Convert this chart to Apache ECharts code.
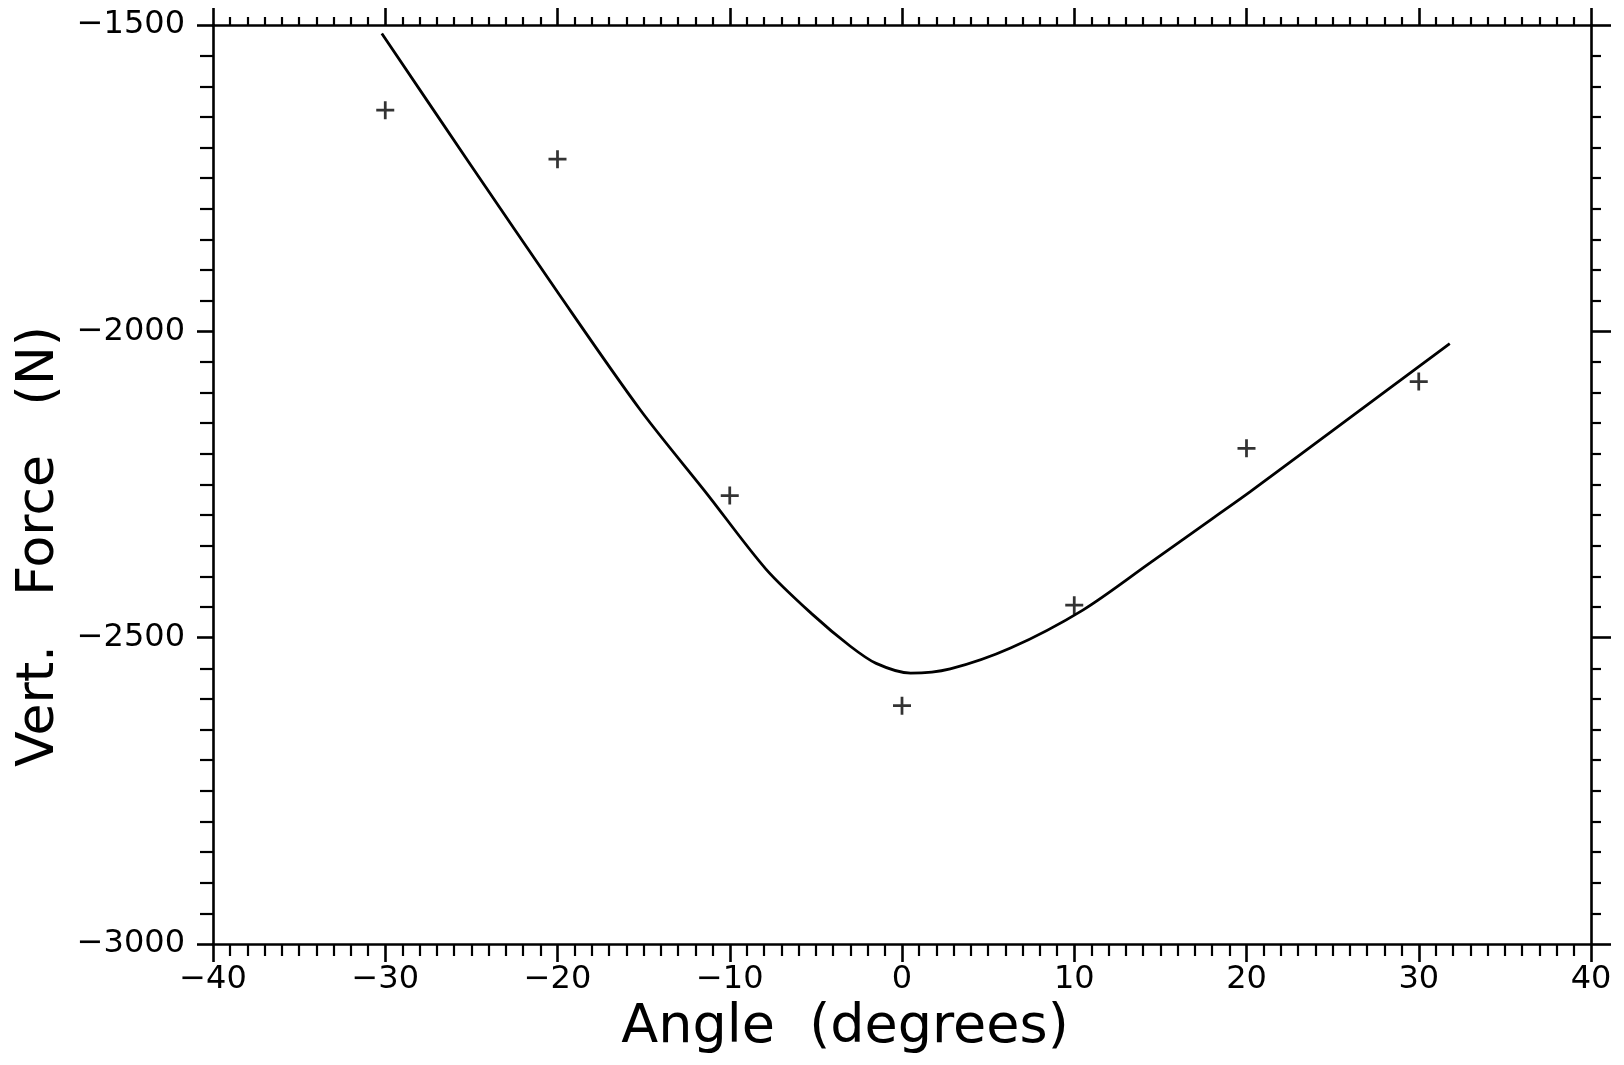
<!DOCTYPE html>
<html>
<head>
<meta charset="utf-8">
<title>Vert. Force vs Angle</title>
<script src="https://cdn.jsdelivr.net/npm/echarts@6/dist/echarts.min.js"></script>
<style>
  html, body { margin: 0; padding: 0; background: #fff; }
  #chart { width: 1624px; height: 1065px; }
</style>
</head>
<body>
<div id="chart"></div>
<script>
// Measured points (+ markers)
const measuredAngle = [-30, -20, -10, 0, 10, 20, 30];
const measuredForce = [-1639, -1719, -2268, -2611, -2447, -2191, -2082];

// Predicted curve
const curveAngle = [-30.2, -25.0, -19.9, -15.2, -11.3, -7.9, -5.2, -3.0, -1.5, 0.5, 2.8, 6.3, 10.5, 14.4, 18.0, 20.2, 24.9, 31.8];
const curveForce = [-1514, -1730, -1940, -2128, -2266, -2388, -2462, -2514, -2542, -2558, -2551, -2517, -2455, -2378, -2306, -2262, -2164, -2020];

// Axis ranges [min, max, major step]
const xRange = [-40, 40, 10];
const yRange = [-3000, -1500, 500];

const FONT = 'DejaVu Sans';
const minusSign = v => String(v).replace('-', '\u2212');

const chart = echarts.init(document.getElementById('chart'), null, { renderer: 'canvas' });

const axisLine = { show: true, onZero: false, lineStyle: { color: '#000', width: 2.6 } };

function xAxisDef(position, showLabels, majorLen, minorLen) {
  return {
    type: 'value', position: position,
    min: xRange[0], max: xRange[1], interval: xRange[2],
    axisLine: axisLine,
    axisTick: { show: true, inside: false, length: majorLen, lineStyle: { color: '#000', width: 2.6 } },
    minorTick: { show: true, splitNumber: 10, length: minorLen, lineStyle: { color: '#000', width: 2.2 } },
    splitLine: { show: false },
    axisLabel: showLabels ? {
      show: true, margin: 20, color: '#000', fontFamily: FONT, fontSize: 32,
      formatter: minusSign
    } : { show: false },
    name: showLabels ? 'Angle  (degrees)' : '',
    nameLocation: 'middle', nameGap: 54,
    nameTextStyle: { color: '#000', fontFamily: FONT, fontSize: 54, padding: [0, 114, 0, 0] }
  };
}

function yAxisDef(position, showLabels, majorLen, minorLen) {
  return {
    type: 'value', position: position,
    min: yRange[0], max: yRange[1], interval: yRange[2],
    axisLine: axisLine,
    axisTick: { show: true, inside: false, length: majorLen, lineStyle: { color: '#000', width: 2.6 } },
    minorTick: { show: true, splitNumber: 10, length: minorLen, lineStyle: { color: '#000', width: 2.2 } },
    splitLine: { show: false },
    axisLabel: showLabels ? {
      show: true, margin: 28, color: '#000', fontFamily: FONT, fontSize: 32,
      formatter: minusSign
    } : { show: false },
    name: showLabels ? 'Vert.   Force   (N)' : '',
    nameLocation: 'middle', nameGap: 140, nameRotate: 90,
    nameTextStyle: { color: '#000', fontFamily: FONT, fontSize: 52, padding: [0, 124, 0, 0] }
  };
}

chart.setOption({
  animation: false,
  backgroundColor: '#fff',
  grid: { left: 213, top: 25, right: 33, bottom: 121, containLabel: false },
  xAxis: [
    xAxisDef('bottom', true, 18, 12),
    xAxisDef('top', false, 17, 8)
  ],
  yAxis: [
    yAxisDef('left', true, 16, 13),
    yAxisDef('right', false, 20, 10)
  ],
  series: [
    {
      name: 'Predicted',
      type: 'line',
      xAxisIndex: 0, yAxisIndex: 0,
      data: curveAngle.map((a, i) => [a, curveForce[i]]),
      showSymbol: false,
      smooth: 0.3,
      lineStyle: { color: '#000', width: 2.8 },
      z: 3
    },
    {
      name: 'Measured',
      type: 'scatter',
      xAxisIndex: 0, yAxisIndex: 0,
      data: measuredAngle.map((a, i) => [a, measuredForce[i]]),
      symbol: 'path://M7.2,0h2.6v7.2h7.2v2.6h-7.2v7.2h-2.6v-7.2h-7.2v-2.6h7.2z',
      symbolSize: 18,
      itemStyle: { color: '#000' },
      z: 4
    }
  ]
});
</script>
</body>
</html>
